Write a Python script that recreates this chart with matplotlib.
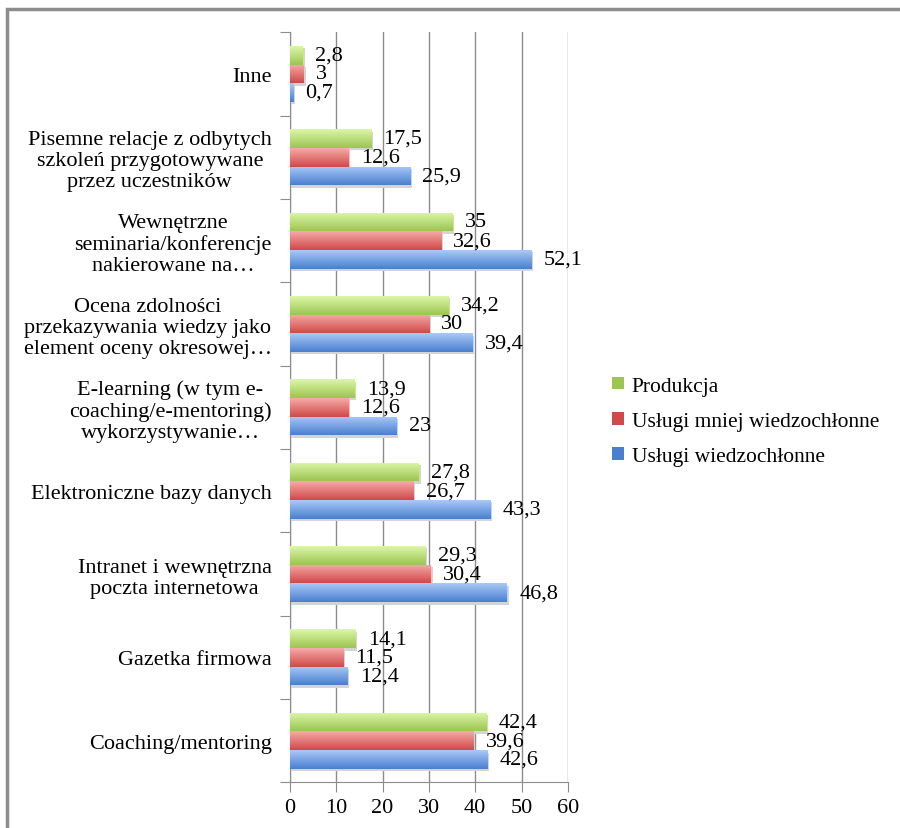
import numpy as np
import matplotlib.pyplot as plt
from matplotlib.colors import LinearSegmentedColormap
from matplotlib.patches import Rectangle

plt.rcParams['font.family'] = ['Liberation Serif', 'DejaVu Serif']

# kategorie od dołu do góry
categories = [
    "Coaching/mentoring",
    "Gazetka firmowa",
    "Intranet i wewnętrzna\npoczta internetowa",
    "Elektroniczne bazy danych",
    "E-learning (w tym e-\ncoaching/e-mentoring)\nwykorzystywanie…",
    "Ocena zdolności\nprzekazywania wiedzy jako\nelement oceny okresowej…",
    "Wewnętrzne\nseminaria/konferencje\nnakierowane na…",
    "Pisemne relacje z odbytych\nszkoleń przygotowywane\nprzez uczestników",
    "Inne",
]
uslugi_wiedzochlonne = [42.6, 12.4, 46.8, 43.3, 23, 39.4, 52.1, 25.9, 0.7]
uslugi_mniej = [39.6, 11.5, 30.4, 26.7, 12.6, 30, 32.6, 12.6, 3]
produkcja = [42.4, 14.1, 29.3, 27.8, 13.9, 34.2, 35, 17.5, 2.8]

series = [
    ("Usługi wiedzochłonne", uslugi_wiedzochlonne, "#a9c9f7", "#4a7fcf"),
    ("Usługi mniej wiedzochłonne", uslugi_mniej, "#f6aaa9", "#cf4a48"),
    ("Produkcja", produkcja, "#dcf7a6", "#9cc552"),
]

fig = plt.figure(figsize=(9, 8.29), dpi=100)
ax = fig.add_axes([0.322, 0.055, 0.309, 0.905])

y = np.arange(len(categories))
h = 0.224
grad = np.linspace(0, 1, 64).reshape(-1, 1)

for i, (name, vals, top, bottom) in enumerate(series):
    off = (i - 1) * h
    bars = ax.barh(y + off, vals, height=h, color=bottom, label=name, zorder=3)
    cmap = LinearSegmentedColormap.from_list(name, [bottom, top])
    for b in bars:
        x0, y0 = b.get_x(), b.get_y()
        w, hh = b.get_width(), b.get_height()
        # cień pod słupkiem
        ax.add_patch(Rectangle((x0, y0 - 0.03), w + 0.4, hh, color="#d4d4d4",
                               zorder=2, lw=0))
        img = ax.imshow(grad, cmap=cmap, aspect="auto", origin="lower",
                        extent=(x0, x0 + w, y0, y0 + hh), zorder=3.5)
        img.set_clip_path(b)
    for yy, v in zip(y + off, vals):
        ax.annotate(str(v).replace(".", ","), (v, yy), xytext=(9, 0),
                    textcoords="offset points", va="center", ha="left",
                    fontsize=16, zorder=5)

ax.set_xlim(0, 60)
ax.set_ylim(-0.5, len(categories) - 0.5)
ax.set_xticks(range(0, 61, 10))
ax.set_yticks(np.arange(-0.5, len(categories), 1))
ax.set_yticklabels([])
ax.set_yticks(y, minor=True)
ax.set_yticklabels(categories, minor=True, fontsize=16, ha="right",
                   multialignment="center", linespacing=1.15)
ax.tick_params(axis="y", which="minor", length=0, pad=13)
ax.tick_params(axis="y", which="major", length=7, color="#8c8c8c")
ax.tick_params(axis="x", length=7, color="#8c8c8c", labelsize=16, pad=4)
ax.xaxis.grid(True, color="#8c8c8c", lw=1, zorder=0)
ax.set_axisbelow(True)
for s in ["top", "right"]:
    ax.spines[s].set_visible(False)
for s in ["left", "bottom"]:
    ax.spines[s].set_color("#8c8c8c")

handles, labels = ax.get_legend_handles_labels()
fig.legend(handles[::-1], labels[::-1], loc="upper left",
           bbox_to_anchor=(0.659, 0.568), frameon=False, fontsize=15.5,
           handlelength=0.55, handleheight=0.55, handletextpad=0.35,
           labelspacing=0.75)

# ramka wokół wykresu
fig.add_artist(Rectangle((0.008, -0.05), 1.1, 1.038, transform=fig.transFigure,
                         fill=False, ec="#8c8c8c", lw=2.5))

fig.savefig("out.png", dpi=100)
